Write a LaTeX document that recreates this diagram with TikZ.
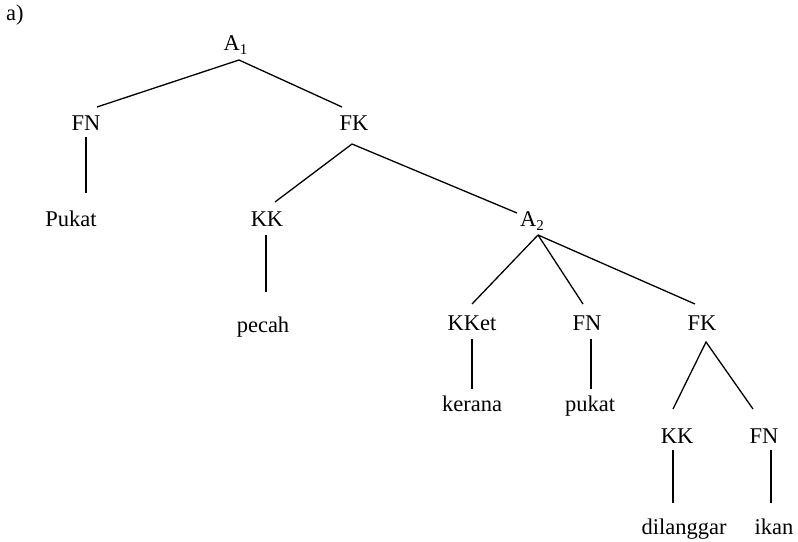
\documentclass[tikz,border=0pt]{standalone}
\usepackage{fontspec}
\setmainfont{Liberation Serif}
\newcommand{\subnum}[1]{\raisebox{-0.22em}{\fontsize{15}{18}\selectfont #1}}
\begin{document}
\begin{tikzpicture}[x=1pt,y=-1pt,
  lbl/.style={anchor=base,inner sep=0pt,font=\fontsize{22.5}{27}\selectfont},
  br/.style={line width=1.3pt},
  vl/.style={line width=2.2pt}]
\useasboundingbox (0,0) rectangle (798,541);
\node[anchor=base west,inner sep=0pt,font=\fontsize{22.5}{27}\selectfont] (lab) at (6,20) {a)};
\node[lbl] (a1) at (235.5,50) {A\subnum{1}};
\node[lbl] (fn1) at (86,130) {FN};
\node[lbl] (fk1) at (354,130) {FK};
\node[lbl] (pukat1) at (71,226) {Pukat};
\node[lbl] (kk1) at (267,226) {KK};
\node[lbl] (a2) at (532,226) {A\subnum{2}};
\node[lbl] (pecah) at (263,332) {pecah};
\node[lbl] (kket) at (472,330) {KKet};
\node[lbl] (fn2) at (587,330) {FN};
\node[lbl] (fk2) at (702,330) {FK};
\node[lbl] (kerana) at (472,411) {kerana};
\node[lbl] (pukat2) at (590,411) {pukat};
\node[lbl] (kk3) at (677,443) {KK};
\node[lbl] (fn3) at (764,443) {FN};
\node[lbl] (dilanggar) at (684,534) {dilanggar};
\node[lbl] (ikan) at (774,534) {ikan};
% branches
\draw[br] ([shift={(11,-23)}]fn1.base) -- ([shift={(3.5,10)}]a1.base) -- ([shift={(-12,-23)}]fk1.base);
\draw[br] ([shift={(8,-24)}]kk1.base) -- ([shift={(-2,14)}]fk1.base) -- ([shift={(-15,-13)}]a2.base);
\draw[br] ([shift={(6,9)}]a2.base) -- ([shift={(0,-26)}]kket.base);
\draw[br] ([shift={(6,9)}]a2.base) -- ([shift={(-4,-26)}]fn2.base);
\draw[br] ([shift={(6,9)}]a2.base) -- ([shift={(-7,-26)}]fk2.base);
\draw[br] ([shift={(-4,-34)}]kk3.base) -- ([shift={(4,12)}]fk2.base) -- ([shift={(-11,-34)}]fn3.base);
% verticals
\draw[vl] ([shift={(0,7)}]fn1.base) -- ([shift={(15,-33)}]pukat1.base);
\draw[vl] ([shift={(-1,9)}]kk1.base) -- ([shift={(3,-40)}]pecah.base);
\draw[vl] ([shift={(0,9)}]kket.base) -- ([shift={(0,-22)}]kerana.base);
\draw[vl] ([shift={(4,9)}]fn2.base) -- ([shift={(1,-22)}]pukat2.base);
\draw[vl] ([shift={(-4,7)}]kk3.base) -- ([shift={(-11,-31)}]dilanggar.base);
\draw[vl] ([shift={(7,7)}]fn3.base) -- ([shift={(-3,-31)}]ikan.base);
\end{tikzpicture}
\end{document}
